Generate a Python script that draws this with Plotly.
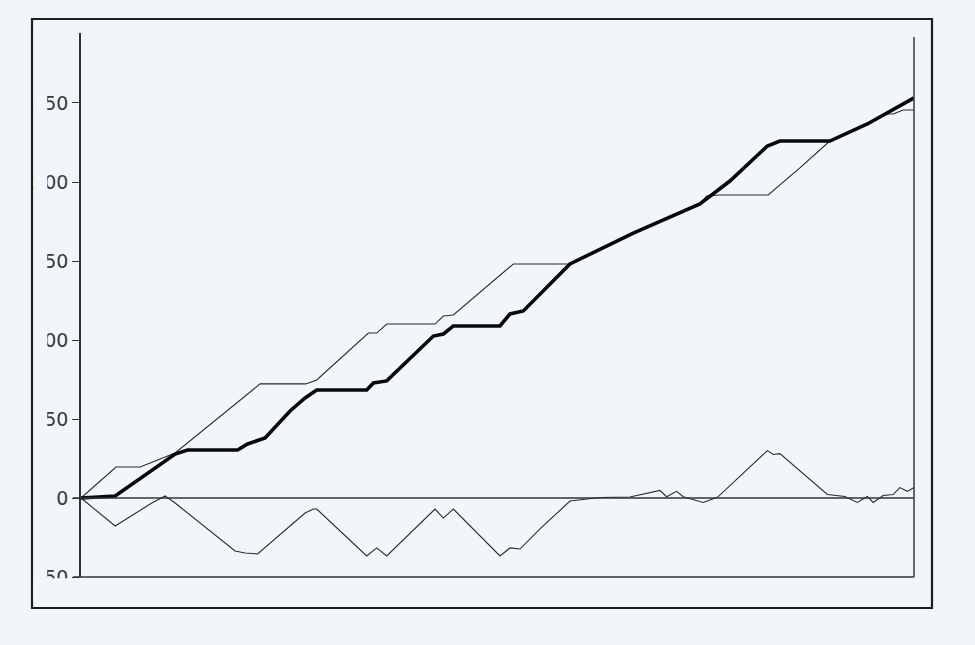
import plotly.graph_objects as go

# values (x is position along the axis, 0-100)
thin_x = [0, 4.2, 7.1, 11.3, 21.5, 27.0, 28.3, 34.5, 35.5, 36.7, 42.5, 43.5, 44.7,
          51.9, 58.7, 66.3, 71.5, 74.3, 75.1, 76.7, 82.5, 83.6, 86.3, 89.9, 94.4,
          96.8, 97.5, 98.7, 100]
thin_y = [0, 19.6, 19.6, 28.5, 72.2, 72.2, 74.7, 104.4, 104.4, 110.1, 110.1, 115.2, 115.8,
          148.1, 148.1, 167.7, 179.7, 186.1, 191.1, 191.8, 191.8, 196.8, 208.9, 225.9, 236.7,
          243.0, 243.0, 245.6, 245.6]

thick_x = [0, 4.1, 11.3, 12.8, 18.8, 20.0, 22.1, 25.1, 26.9, 28.3, 34.3, 35.1, 36.7,
           42.3, 43.5, 44.7, 50.3, 51.5, 53.1, 58.7, 66.3, 71.5, 74.3, 77.9, 82.4,
           83.9, 89.9, 94.4, 100]
thick_y = [0, 1.3, 27.8, 30.4, 30.4, 34.2, 38.0, 55.1, 63.3, 68.4, 68.4, 72.8, 74.1,
           102.5, 103.8, 108.9, 108.9, 116.5, 118.4, 148.1, 167.7, 179.7, 186.1, 200.6, 222.8,
           225.9, 225.9, 236.7, 253.2]

diff_x = [0, 4.1, 8.5, 10.1, 11.3, 18.5, 19.7, 21.2, 26.9, 27.9, 28.3, 34.3, 35.5,
          36.7, 42.5, 43.5, 44.7, 50.3, 51.5, 52.7, 55.1, 58.7, 62.3, 65.9, 69.5,
          70.3, 71.5, 72.3, 74.7, 76.4, 82.4, 83.1, 83.9, 89.6, 91.7, 93.2, 94.4,
          95.1, 96.3, 97.5, 98.3, 99.2, 100]
diff_y = [0, -17.7, -3.2, 1.3, -3.2, -33.5, -34.8, -35.4, -9.5, -7.0, -7.0, -36.7, -31.6,
          -36.7, -7.0, -12.7, -7.0, -36.7, -31.6, -32.3, -19.6, -1.9, 0.3, 0.6, 4.8,
          0.8, 4.2, 0.8, -2.8, 0.4, 30.0, 27.5, 28.1, 2.2, 1.0, -2.8, 1.0,
          -2.8, 1.6, 2.2, 6.6, 4.2, 6.6]

tick_vals = [250, 200, 150, 100, 50, 0, -50]
tick_text = ['250', '200', '150', '100', '50', '0', '-50']

bg = '#f2f6f8'
ink = '#1e1e1e'

fig = go.Figure()

fig.add_trace(go.Scatter(x=thin_x, y=thin_y, mode='lines',
                         line=dict(color='#2a2a2a', width=1.1)))
fig.add_trace(go.Scatter(x=diff_x, y=diff_y, mode='lines',
                         line=dict(color='#2a2a2a', width=1.1)))
fig.add_trace(go.Scatter(x=thick_x, y=thick_y, mode='lines',
                         line=dict(color='#080808', width=3.6)))

# zero line, bottom axis stub, right-hand axis and outer frame
fig.add_shape(type='line', xref='paper', yref='y', x0=-0.0096, x1=1.0, y0=0, y1=0,
              line=dict(color='#333', width=1.4))
fig.add_shape(type='line', xref='paper', yref='paper', x0=-0.0096, x1=1.0, y0=0, y1=0,
              line=dict(color='#333', width=1.6))
fig.add_shape(type='line', xref='paper', yref='paper', x0=1.0, x1=1.0, y0=0, y1=0.9926,
              line=dict(color='#444', width=1.6))
fig.add_shape(type='rect', xref='paper', yref='paper', x0=-0.0588, x1=1.0216,
              y0=-0.057, y1=1.0257, line=dict(color=ink, width=2.2))

# the scan cut off the left part of the tick labels
fig.add_shape(type='rect', xref='paper', yref='paper', x0=-0.0570, x1=-0.0405,
              y0=-0.045, y1=1.0, fillcolor=bg, line=dict(width=0), layer='above')
fig.add_shape(type='rect', xref='paper', yref='paper', x0=-0.0570, x1=-0.0108,
              y0=-0.045, y1=-0.0025, fillcolor=bg, line=dict(width=0), layer='above')

fig.update_layout(
    width=975, height=645,
    margin=dict(l=81, r=61, t=33, b=68),
    paper_bgcolor=bg, plot_bgcolor=bg,
    showlegend=False,
    xaxis=dict(range=[0, 100], showgrid=False, zeroline=False, showticklabels=False,
               ticks='', showline=False),
    yaxis=dict(range=[-50, 294.3], showgrid=False, zeroline=False,
               tickvals=tick_vals, ticktext=tick_text, ticks='outside', ticklen=7,
               tickcolor='#333', tickwidth=1.4,
               tickfont=dict(family='DejaVu Sans', size=19, color='#3a3a3a'),
               showline=True, linecolor='#333', linewidth=1.6),
)

fig.write_html('out.html', config={'displayModeBar': False},
               post_script="document.body.style.margin='0px';"
                           "document.body.style.background='#f2f6f8';")
